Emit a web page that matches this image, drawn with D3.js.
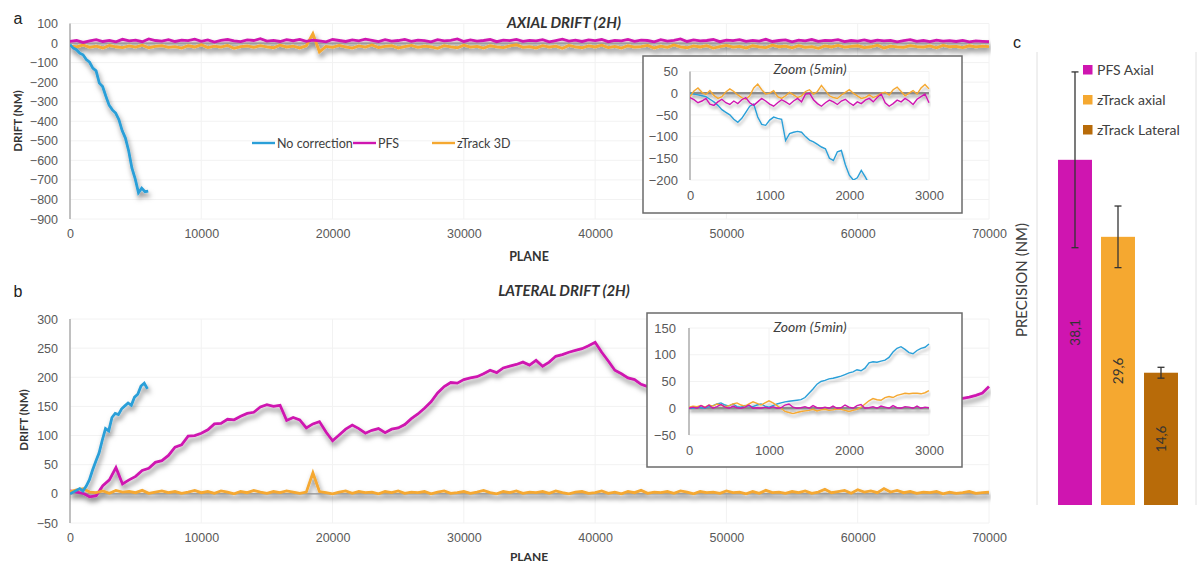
<!DOCTYPE html>
<html>
<head>
<meta charset="utf-8">
<script src="https://cdn.jsdelivr.net/npm/d3@7"></script>
<style>
  body { margin: 0; background: #fff; }
  svg { display: block; }
  .tick text { fill: #595959; font-family: "Liberation Sans", Arial, sans-serif; }
  .ttl { font-family: Lato, "Open Sans", sans-serif; fill: #404040; }
</style>
</head>
<body>
<svg id="chart" width="1200" height="566"></svg>
<script>
// ---- data ----
var seriesNames = ["No correction", "PFS", "zTrack 3D"];
var seriesColors = ["#2a9fd8", "#cf15b0", "#f5a830"];

// panel a: axial drift, planes 0..70000 (PFS & zTrack), 0..5960 (no correction)
var axialNoCorr = [-8,-26,-34,-52,-60,-84,-98,-128,-142,-205,-222,-272,-318,-342,-358,-392,-448,-486,-552,-640,-695,-765,-742,-760,-757];
var axialPFS = [9,13,3,11,17,8,14,6,19,11,15,7,21,13,10,17,8,15,12,20,9,16,5,14,18,11,7,16,13,22,10,14,8,17,12,19,9,15,11,6,
  18,13,8,16,11,20,14,7,17,10,13,19,9,15,12,6,17,11,14,21,8,16,10,13,18,7,15,12,19,9,14,11,17,6,13,20,10,15,8,16,
  12,18,7,14,11,19,9,15,13,6,17,10,14,21,8,16,11,13,18,7,15,12,17,9,14,10,19,8,13,16,6,15,11,18,9,14,12,17,7,13,
  10,16,8,15,11,14,6,12,17,9,13,7,15,10,12,8,14,6,11,9,7];
var axialZT = [-14,-20,-10,-22,-16,-25,-12,-19,-23,-15,-21,-11,-24,-17,-13,-22,-18,-26,-14,-20,-9,-23,-16,-21,-12,-27,-18,-15,-22,-13,
  -19,-24,-11,-20,-16,-25,-14,48,-45,-17,-22,-12,-19,-26,-15,-21,-10,-23,-17,-14,-25,-18,-12,-22,-16,-20,-27,-13,-19,-24,
  -11,-21,-17,-26,-14,-20,-23,-15,-9,-22,-18,-25,-13,-21,-16,-27,-12,-19,-24,-15,-20,-11,-23,-17,-26,-14,-21,-18,-12,-25,
  -16,-22,-10,-19,-24,-15,-20,-13,-26,-18,-12,-21,-17,-25,-14,-20,-23,-11,-19,-16,-24,-13,-22,-18,-27,-15,-20,-12,-21,-17,
  -14,-23,-19,-11,-25,-16,-20,-22,-13,-18,-21,-15,-24,-12,-19,-17,-23,-14,-20,-16,-18];

// panel b: lateral drift
var latNoCorr = [0,3,6,9,5,13,24,41,56,70,92,112,108,131,138,136,146,151,156,152,166,171,185,190,180];
var latPFS = [5,3,1,-5,-3,14,24,45,17,24,30,40,44,54,57,66,80,84,99,100,104,110,120,121,128,127,133,138,140,149,
  153,150,152,126,131,127,113,120,124,106,91,101,111,118,112,104,109,112,105,111,113,119,129,137,147,158,173,184,191,190,
  196,199,201,206,212,208,216,219,222,226,221,229,219,226,236,239,243,246,249,254,260,243,228,212,206,199,196,188,184,
  182,181,183,179,180,178,181,177,179,176,178,175,177,174,176,173,175,172,174,171,173,170,172,169,171,168,170,167,169,166,
  168,165,167,164,166,163,165,162,164,161,163,160,162,161,159,160,161,164,166,169,173,184];
var latZT = [4,7,9,3,2,5,1,6,3,4,2,6,1,3,5,2,4,1,3,6,2,4,1,5,3,0,4,2,6,3,1,4,2,5,3,1,3,36,4,2,
  0,3,5,1,4,2,3,0,4,2,5,1,3,2,4,0,3,5,1,2,4,1,3,6,2,0,4,2,5,1,3,2,4,1,5,2,0,3,4,1,
  2,5,1,3,0,4,2,6,1,3,2,4,1,5,3,0,4,2,3,1,5,2,3,0,4,1,6,2,3,1,4,2,5,1,3,8,2,4,6,1,
  7,3,5,2,9,3,6,2,4,1,3,2,4,0,3,1,2,4,1,2,3];

// zoom insets (first 3000 planes)
var zoomAxNoCorr = [0,-2,-4,-6,-8,-14,-20,-28,-38,-44,-50,-60,-67,-58,-44,-30,-25,-55,-72,-74,-62,-55,-58,-60,-109,-93,-90,-88,-90,-100,
  -108,-112,-118,-124,-128,-150,-155,-135,-132,-165,-189,-200,-195,-178,-193,-210];
var zoomAxPFS = [-10,-15,-22,-18,-12,-25,-28,-20,-14,-22,-26,-18,-24,-15,-10,-22,-28,-20,-12,-18,-25,-30,-22,-15,-20,-26,-18,-12,-20,-2,
  0,-15,-24,-30,-22,-16,-20,-26,-18,-14,-22,-28,-20,-24,-16,-12,-20,-10,-2,-22,-30,-24,-16,-20,-12,-18,-26,-14,-8,-2,-22];
var zoomAxZT = [-8,5,12,2,-3,6,-5,-12,-8,3,10,4,-4,-10,-14,-6,12,21,8,-2,0,6,-8,-12,-6,2,-4,-10,-6,4,
  8,-2,4,18,6,-6,-10,-12,-4,2,8,0,-6,-12,-10,-4,-10,-6,0,2,-4,8,14,4,-6,0,6,-2,12,20,10];
var zoomLatNoCorr = [0,0,2,1,0,3,5,8,10,6,4,8,3,2,5,4,3,6,8,4,2,5,8,10,12,13,14,15,16,20,
  28,36,45,50,52,55,56,58,60,63,66,68,72,70,75,85,87,86,88,90,95,105,112,115,110,104,102,108,112,114,120];
var zoomLatPFS = [0,2,0,5,1,6,0,3,7,2,0,4,1,0,2,6,0,1,0,2,0,3,0,1,6,8,2,0,1,3,
  0,5,1,0,2,0,4,0,1,6,2,0,5,7,0,1,3,0,4,2,0,5,1,0,3,2,0,4,0,2,1];
var zoomLatZT = [2,4,3,5,2,6,4,8,6,3,5,8,10,6,4,8,12,9,6,10,14,10,5,0,-6,-8,-10,-8,-6,-5,
  -4,-2,-5,-3,-2,-4,-3,-1,-2,-4,-6,-4,-2,2,8,14,18,16,15,20,22,20,24,26,28,27,28,28,27,29,33];

// panel c: precision
var precNames = ["PFS Axial", "zTrack axial", "zTrack Lateral"];
var precValues = [38.1, 29.6, 14.6];
var precErrors = [9.7, 3.4, 0.6];
var precLabels = ["38,1", "29,6", "14,6"];
var precColors = ["#cf15b0", "#f5a830", "#b86b09"];

var mainXTicks = [0, 10000, 20000, 30000, 40000, 50000, 60000, 70000];

// ---- drawing ----
var svg = d3.select("#chart");
var defs = svg.append("defs");
var f = defs.append("filter").attr("id", "shadow").attr("x", "-5%").attr("y", "-20%").attr("width", "110%").attr("height", "160%");
f.append("feDropShadow").attr("dx", 1.5).attr("dy", 4).attr("stdDeviation", 2.4)
  .attr("flood-color", "#000").attr("flood-opacity", 0.5);
var f2 = defs.append("filter").attr("id", "shadow2").attr("x", "-5%").attr("y", "-20%").attr("width", "110%").attr("height", "160%");
f2.append("feDropShadow").attr("dx", 1).attr("dy", 3).attr("stdDeviation", 1.8)
  .attr("flood-color", "#000").attr("flood-opacity", 0.3);

function toPoints(vals, span) {
  return vals.map(function (v, i) { return [i * span / (vals.length - 1), v]; });
}

function drawPanel(opt) {
  var x = d3.scaleLinear().domain(opt.xDomain).range(opt.xRange);
  var y = d3.scaleLinear().domain(opt.yDomain).range(opt.yRange);
  var g = svg.append("g");

  if (opt.box) {
    g.append("rect").attr("x", opt.box[0]).attr("y", opt.box[1])
      .attr("width", opt.box[2] - opt.box[0]).attr("height", opt.box[3] - opt.box[1])
      .attr("fill", "#fff").attr("stroke", "#6b6b6b").attr("stroke-width", 1.5);
  }

  // faint gridlines
  g.append("g").selectAll("line").data(opt.yTicks).enter().append("line")
    .attr("x1", opt.xRange[0]).attr("x2", opt.xRange[1])
    .attr("y1", function (d) { return y(d); }).attr("y2", function (d) { return y(d); })
    .attr("stroke", "#f2f2f2");
  g.append("g").selectAll("line").data(opt.xTicks).enter().append("line")
    .attr("y1", opt.yRange[0]).attr("y2", opt.yRange[1])
    .attr("x1", function (d) { return x(d); }).attr("x2", function (d) { return x(d); })
    .attr("stroke", "#f2f2f2");

  var ya = g.append("g").attr("transform", "translate(" + opt.xRange[0] + ",0)")
    .call(d3.axisLeft(y).tickValues(opt.yTicks).tickSize(0).tickPadding(opt.yPad));
  ya.select(".domain").remove();
  ya.selectAll("text").style("font-size", opt.fs + "px");
  var xa = g.append("g").attr("transform", "translate(0," + opt.yRange[0] + ")")
    .call(d3.axisBottom(x).tickValues(opt.xTicks).tickSize(0).tickPadding(opt.xPad).tickFormat(d3.format("d")));
  xa.select(".domain").remove();
  xa.selectAll("text").style("font-size", opt.fs + "px");

  // axis line
  g.append("line").attr("x1", opt.xRange[0]).attr("x2", opt.xRange[0])
    .attr("y1", opt.yRange[0]).attr("y2", opt.yRange[1]).attr("stroke", "#9a9a9a").attr("stroke-width", 1.2);

  var cid = "clip" + Math.round(opt.xRange[0]) + Math.round(opt.yRange[0]);
  defs.append("clipPath").attr("id", cid).append("rect")
    .attr("x", opt.xRange[0]).attr("y", opt.yRange[1] - 4)
    .attr("width", opt.xRange[1] - opt.xRange[0] + 2).attr("height", opt.yRange[0] - opt.yRange[1] + 4);

  var lg = g.append("g").attr("clip-path", "url(#" + cid + ")").attr("filter", opt.shadow);
  // zero line
  lg.append("line").attr("x1", opt.xRange[0]).attr("x2", opt.zeroEnd)
    .attr("y1", y(0)).attr("y2", y(0)).attr("stroke", opt.zeroColor).attr("stroke-width", opt.zeroWidth);

  var line = d3.line().x(function (d) { return x(d[0]); }).y(function (d) { return y(d[1]); });
  opt.series.forEach(function (s) {
    lg.append("path").datum(toPoints(s.values, s.span)).attr("d", line)
      .attr("fill", "none").attr("stroke", s.color).attr("stroke-width", opt.lw)
      .attr("stroke-linejoin", "miter");
  });
  return g;
}

// panel a
drawPanel({
  xDomain: [0, 70000], xRange: [70, 989], yDomain: [-900, 100], yRange: [219, 23.5],
  yTicks: d3.range(-900, 101, 100), xTicks: mainXTicks, yPad: 12, xPad: 10, fs: 12.5, lw: 2.8,
  shadow: "url(#shadow)", zeroEnd: 989, zeroColor: "#8c8c8c", zeroWidth: 1.2,
  series: [
    {values: axialZT, span: 70000, color: seriesColors[2]},
    {values: axialPFS, span: 70000, color: seriesColors[1]},
    {values: axialNoCorr, span: 5960, color: seriesColors[0]}
  ]
});
// panel b
drawPanel({
  xDomain: [0, 70000], xRange: [70, 989], yDomain: [-50, 300], yRange: [523, 319],
  yTicks: d3.range(-50, 301, 50), xTicks: mainXTicks, yPad: 12, xPad: 10, fs: 12.5, lw: 2.8,
  shadow: "url(#shadow)", zeroEnd: 989, zeroColor: "#8c8c8c", zeroWidth: 1.2,
  series: [
    {values: latPFS, span: 70000, color: seriesColors[1]},
    {values: latZT, span: 70000, color: seriesColors[2]},
    {values: latNoCorr, span: 5900, color: seriesColors[0]}
  ]
});
// inset a
drawPanel({
  box: [643, 56, 962, 213],
  xDomain: [0, 3000], xRange: [690, 929], yDomain: [-200, 50], yRange: [180, 71.5],
  yTicks: d3.range(-200, 51, 50), xTicks: [0, 1000, 2000, 3000], yPad: 12, xPad: 11, fs: 13, lw: 1.4,
  shadow: "url(#shadow2)", zeroEnd: 929, zeroColor: "#8c8c8c", zeroWidth: 2.5,
  series: [
    {values: zoomAxNoCorr, span: 2250, color: seriesColors[0]},
    {values: zoomAxZT, span: 3000, color: seriesColors[2]},
    {values: zoomAxPFS, span: 3000, color: seriesColors[1]}
  ]
});
// inset b
drawPanel({
  box: [647, 313, 962, 467],
  xDomain: [0, 3000], xRange: [689, 929], yDomain: [-50, 150], yRange: [435, 328],
  yTicks: d3.range(-50, 151, 50), xTicks: [0, 1000, 2000, 3000], yPad: 13, xPad: 11, fs: 13, lw: 1.4,
  shadow: "url(#shadow2)", zeroEnd: 929, zeroColor: "#8c8c8c", zeroWidth: 2.5,
  series: [
    {values: zoomLatNoCorr, span: 3000, color: seriesColors[0]},
    {values: zoomLatZT, span: 3000, color: seriesColors[2]},
    {values: zoomLatPFS, span: 3000, color: seriesColors[1]}
  ]
});

// titles and labels
function txt(x, y, s, size, weight, style, anchor, rot, cls, color) {
  var t = svg.append("text").attr("x", x).attr("y", y).text(s)
    .attr("font-size", size).attr("font-weight", weight || "normal").attr("font-style", style || "normal")
    .attr("text-anchor", anchor || "middle").attr("class", cls || "ttl");
  if (color) t.style("fill", color);
  if (rot) t.attr("transform", "rotate(" + rot + "," + x + "," + y + ")");
  return t;
}
txt(18, 24, "a", 16, "normal", null, "middle", 0, "lbl", "#222").attr("font-family", "Liberation Sans, Arial");
txt(18, 297, "b", 16, "normal", null, "middle", 0, "lbl", "#222").attr("font-family", "Liberation Sans, Arial");
txt(1017, 48, "c", 16, "normal", null, "middle", 0, "lbl", "#222").attr("font-family", "Liberation Sans, Arial");
txt(564, 28, "AXIAL DRIFT (2H)", 15, "bold", "italic", "middle", 0, "ttl", "#333");
txt(564, 296, "LATERAL DRIFT (2H)", 15, "bold", "italic", "middle", 0, "ttl", "#333");
txt(529, 261, "PLANE", 12.5, "bold", null, "middle", 0, "ttl", "#333");
txt(529, 561, "PLANE", 12, "bold", null, "middle", 0, "ttl", "#333");
txt(22, 121, "DRIFT (NM)", 11.5, "bold", null, "middle", -90, "ttl", "#333");
txt(28, 420, "DRIFT (NM)", 11.5, "bold", null, "middle", -90, "ttl", "#333");
txt(810, 74, "Zoom (5min)", 14, "normal", "italic");
txt(810, 332, "Zoom (5min)", 14, "normal", "italic");

// legend panel a
var leg = svg.append("g");
var legX = [252, 353, 432];
seriesNames.forEach(function (n, i) {
  leg.append("line").attr("x1", legX[i]).attr("x2", legX[i] + 23).attr("y1", 143).attr("y2", 143)
    .attr("stroke", seriesColors[i]).attr("stroke-width", 2.4);
  leg.append("text").attr("x", legX[i] + 25).attr("y", 147.5).text(n).attr("class", "ttl")
    .attr("font-size", 12.5);
});

// panel c
var cy = d3.scaleLinear().domain([0, 50]).range([505, 52]);
var cx = d3.scaleBand().domain(precNames).range([1053.5, 1182.5]).paddingInner(0.21).paddingOuter(0.105);
var gc = svg.append("g");
[1037, 1196].forEach(function (gx) {
  gc.append("line").attr("x1", gx).attr("x2", gx).attr("y1", cy(50)).attr("y2", cy(0))
    .attr("stroke", "#e0e0e0");
});
gc.selectAll("rect.bar").data(precNames).enter().append("rect").attr("class", "bar")
  .attr("x", function (d) { return cx(d); })
  .attr("y", function (d, i) { return cy(precValues[i]); })
  .attr("width", cx.bandwidth())
  .attr("height", function (d, i) { return cy(0) - cy(precValues[i]); })
  .attr("fill", function (d, i) { return precColors[i]; });
precNames.forEach(function (d, i) {
  var mx = cx(d) + cx.bandwidth() / 2;
  var top = cy(precValues[i] + precErrors[i]), bot = cy(precValues[i] - precErrors[i]);
  gc.append("line").attr("x1", mx).attr("x2", mx).attr("y1", top).attr("y2", bot).attr("stroke", "#333").attr("stroke-width", 1.3);
  [top, bot].forEach(function (yy) {
    gc.append("line").attr("x1", mx - 3.5).attr("x2", mx + 3.5).attr("y1", yy).attr("y2", yy).attr("stroke", "#333").attr("stroke-width", 1.3);
  });
  var my = (cy(precValues[i]) + cy(0)) / 2;
  gc.append("text").attr("x", mx).attr("y", my).attr("dy", "0.35em").text(precLabels[i])
    .attr("text-anchor", "middle").attr("font-size", 13.5).attr("class", "ttl")
    .style("fill", "#333")
    .attr("transform", "rotate(-90," + mx + "," + my + ")");
});
txt(1027, 280, "PRECISION (NM)", 15, "normal", null, "middle", -90);
var legY = [70, 100, 130];
precNames.forEach(function (n, i) {
  gc.append("rect").attr("x", 1083).attr("y", legY[i] - 5).attr("width", 9.5).attr("height", 9.5).attr("fill", precColors[i]);
  gc.append("text").attr("x", 1097).attr("y", legY[i] + 5).text(n).attr("class", "ttl").attr("font-size", 14);
});
</script>
</body>
</html>
